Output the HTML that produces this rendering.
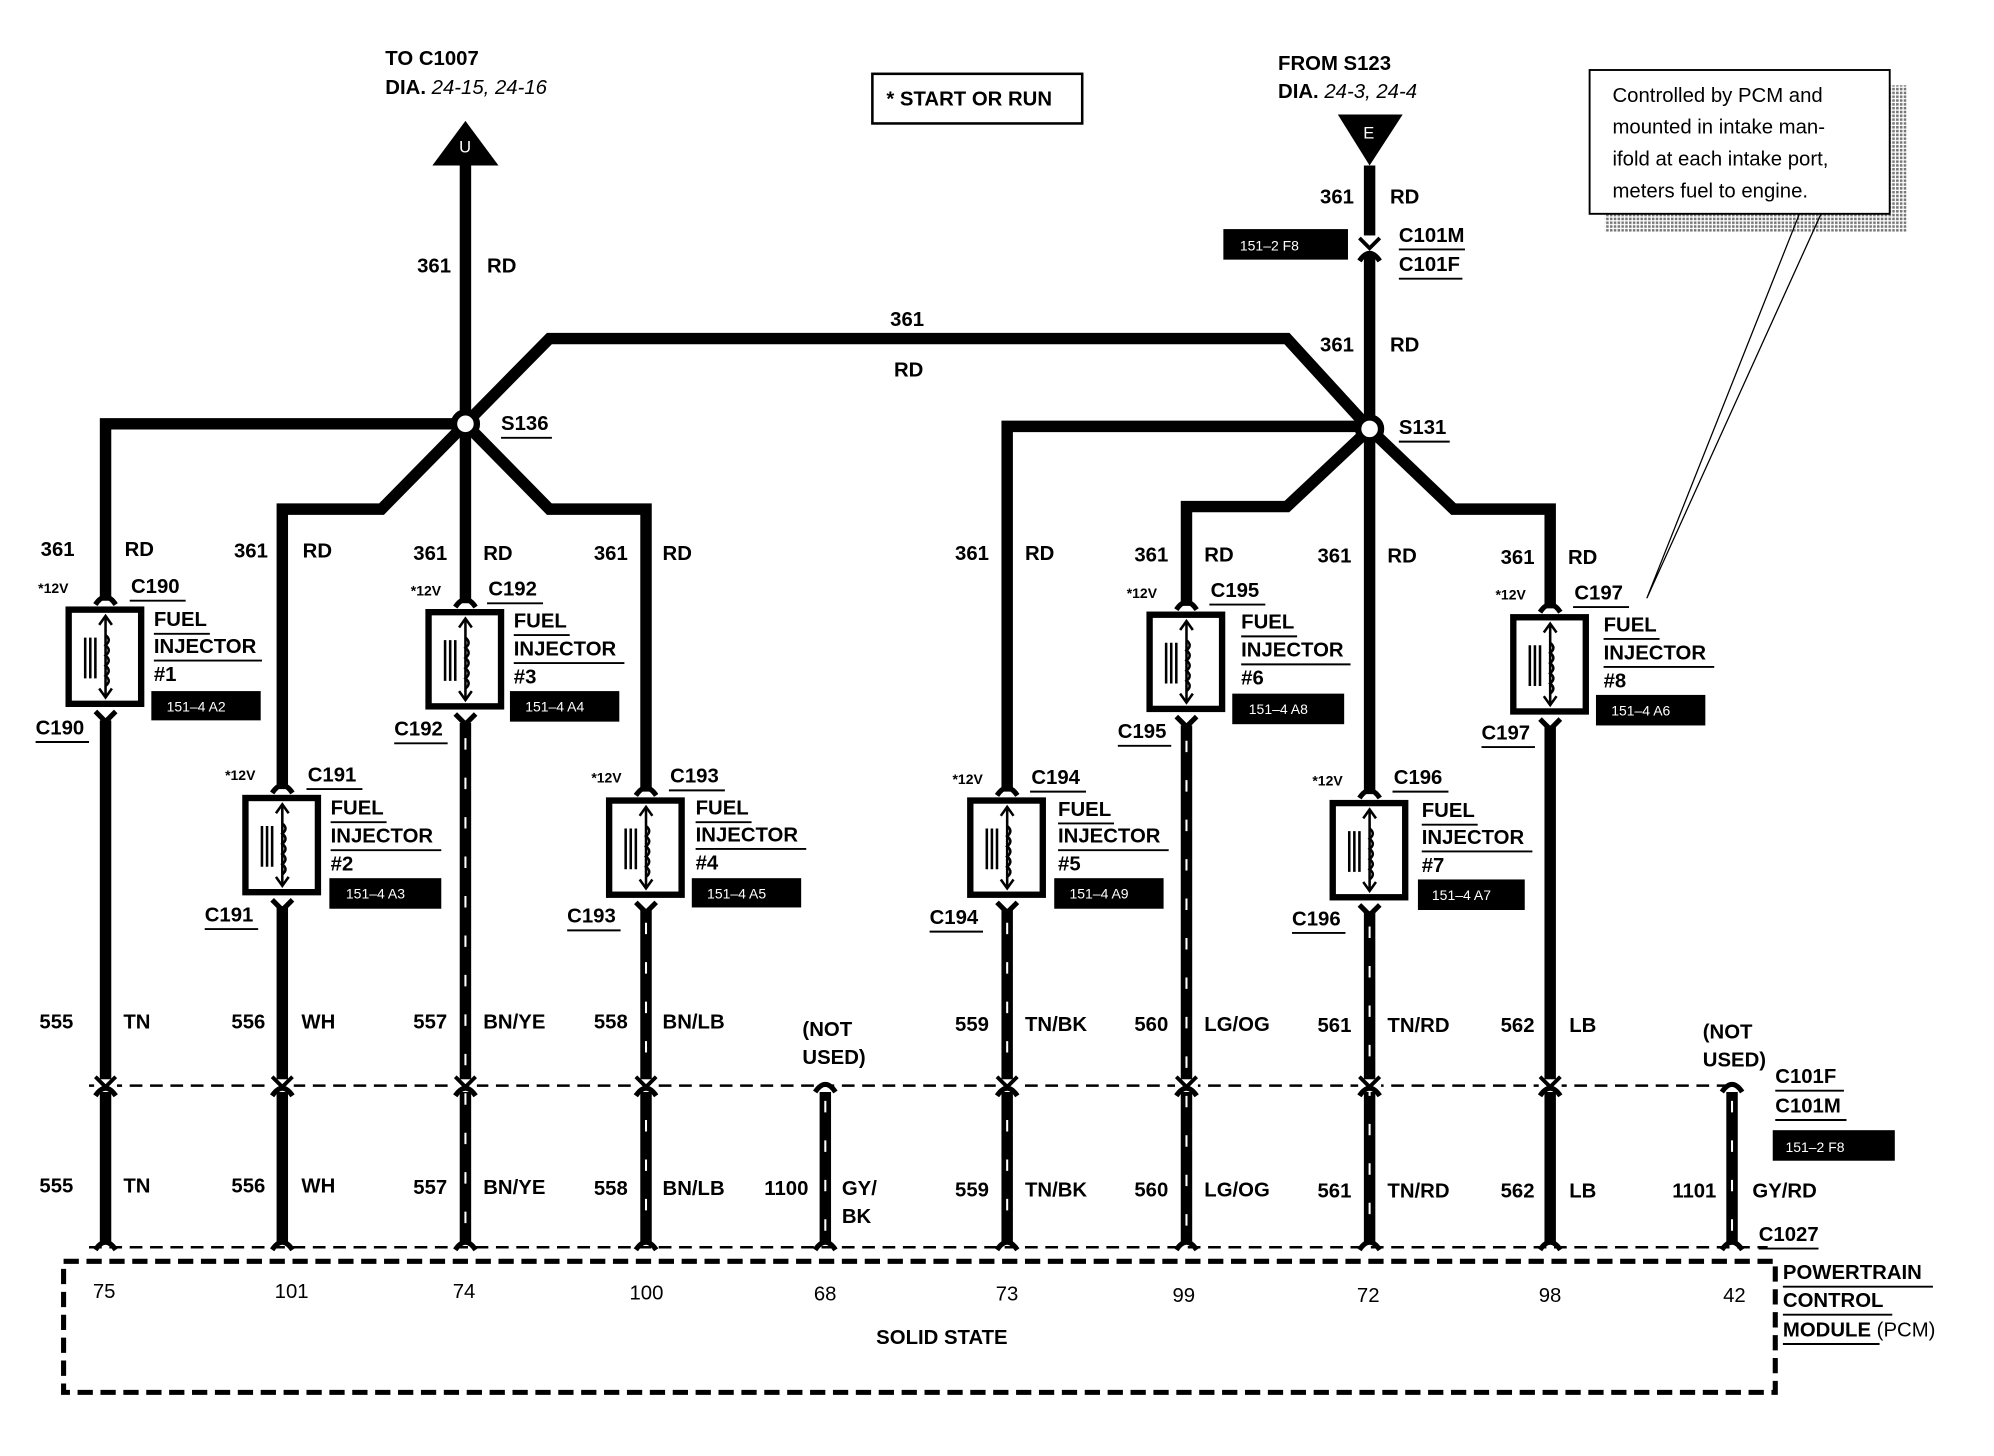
<!DOCTYPE html>
<html><head><meta charset="utf-8"><style>
html,body{margin:0;padding:0;background:#fff}
svg{display:block}
text{font-family:"Liberation Sans",sans-serif;font-weight:bold;font-size:16px;fill:#000}
.s{font-size:11px}
.w{fill:#fff;font-weight:normal;font-size:11px}
.n{font-weight:normal;font-size:16px}
</style></head><body>
<svg width="1994" height="1456" viewBox="0 0 1568 1144" preserveAspectRatio="none" xmlns="http://www.w3.org/2000/svg">
<defs>
<g id="inj">
<rect x="-29" y="0" width="57" height="74" fill="#fff" stroke="#000" stroke-width="5"/>
<line x1="0" y1="6" x2="0" y2="68" stroke="#000" stroke-width="2"/>
<path d="M-5,12 L0,5 L5,12 M-5,62 L0,69 L5,62" fill="none" stroke="#000" stroke-width="2"/>
<path d="M0,20 q5,4 0,8 q5,4 0,8 q5,4 0,8 q5,4 0,8 q5,4 0,8" fill="none" stroke="#000" stroke-width="2"/>
<path d="M-16,22 v32 M-12,22 v32 M-8,22 v32" stroke="#000" stroke-width="2"/>
<path d="M-8,-4 Q0,-16 8,-4" fill="none" stroke="#000" stroke-width="4"/>
<path d="M-8,80 L0,88 L8,80" fill="none" stroke="#000" stroke-width="4"/>
</g>
<g id="up"><path d="M-8,6 Q0,-6 8,6" fill="none" stroke="#000" stroke-width="4"/></g>
<g id="dn"><path d="M-8,-6 L0,2 L8,-6" fill="none" stroke="#000" stroke-width="3"/></g>
<pattern id="dots" width="3" height="3" patternUnits="userSpaceOnUse"><rect width="2" height="2" fill="#777"/></pattern>
</defs>

<text x="303" y="51">TO C1007</text>
<text x="303" y="74">DIA. <tspan font-style="italic" font-weight="normal">24-15, 24-16</tspan></text>
<polygon points="366,95 340,130 392,130" fill="#000"/>
<text x="361" y="120" class="w" style="font-size:13px">U</text>
<rect x="686" y="58" width="165" height="39" fill="none" stroke="#000" stroke-width="2"/>
<text x="697" y="83">*  START OR RUN</text>
<text x="1005" y="55">FROM S123</text>
<text x="1005" y="77">DIA. <tspan font-style="italic" font-weight="normal">24-3, 24-4</tspan></text>
<polygon points="1052,90 1103,90 1077,130" fill="#000"/>
<text x="1072" y="109" class="w" style="font-size:13px">E</text>

<rect x="1262" y="67" width="238" height="115" fill="url(#dots)"/>
<rect x="1250" y="55" width="236" height="113" fill="#fff" stroke="#000" stroke-width="1.5"/>
<text class="n" x="1268" y="80">Controlled by PCM and</text>
<text class="n" x="1268" y="105">mounted in intake man-</text>
<text class="n" x="1268" y="130">ifold at each intake port,</text>
<text class="n" x="1268" y="155">meters fuel to engine.</text>
<path d="M1415,168 L1295,470 L1432,168" fill="none" stroke="#000" stroke-width="1"/>

<g stroke="#000" stroke-width="9" fill="none" stroke-linejoin="miter">
<line x1="366" y1="128" x2="366" y2="333"/>
<line x1="1077" y1="130" x2="1077" y2="337"/>
<path d="M366,333 L432,266 L1012,266 L1077,337"/>
<path d="M366,333 L83,333 L83,472"/>
<path d="M366,333 L300,400 L222,400 L222,620"/>
<line x1="366" y1="333" x2="366" y2="474"/>
<path d="M366,333 L432,400 L508,400 L508,622"/>
<path d="M1077,335 L792,335 L792,622"/>
<path d="M1077,337 L1012,398 L933,398 L933,476"/>
<line x1="1077" y1="337" x2="1077" y2="624"/>
<path d="M1077,337 L1143,400 L1219,400 L1219,478"/>
</g>
<circle cx="366" cy="333" r="9" fill="#fff" stroke="#000" stroke-width="5"/>
<circle cx="1077" cy="337" r="9" fill="#fff" stroke="#000" stroke-width="5"/>
<text x="394" y="338">S136</text><line x1="394" y1="344" x2="434" y2="344" stroke="#000" stroke-width="1.5"/>
<text x="1100" y="341">S131</text><line x1="1100" y1="347" x2="1140" y2="347" stroke="#000" stroke-width="1.5"/>
<rect x="1069" y="185" width="16" height="16" fill="#fff"/>
<use href="#dn" x="1077" y="193"/><use href="#up" x="1077" y="199"/>

<text x="328" y="214">361</text><text x="383" y="214">RD</text>
<text x="700" y="256">361</text><text x="703" y="296">RD</text>
<text x="1038" y="160">361</text><text x="1093" y="160">RD</text>
<text x="1038" y="276">361</text><text x="1093" y="276">RD</text>
<rect x="962" y="180" width="98" height="24" fill="#000"/><text x="975" y="197" class="w">151–2 F8</text>
<text x="1100" y="190">C101M</text><line x1="1100" y1="196" x2="1152" y2="196" stroke="#000" stroke-width="1.5"/>
<text x="1100" y="213">C101F</text><line x1="1100" y1="219" x2="1150" y2="219" stroke="#000" stroke-width="1.5"/>

<g stroke="#000" stroke-width="9">
<line x1="83" y1="566" x2="83" y2="976"/>
<line x1="222" y1="712" x2="222" y2="976"/>
<line x1="366" y1="568" x2="366" y2="976"/>
<line x1="508" y1="714" x2="508" y2="976"/>
<line x1="649" y1="858" x2="649" y2="976"/>
<line x1="792" y1="714" x2="792" y2="976"/>
<line x1="933" y1="570" x2="933" y2="976"/>
<line x1="1077" y1="716" x2="1077" y2="976"/>
<line x1="1219" y1="570" x2="1219" y2="976"/>
<line x1="1362" y1="858" x2="1362" y2="976"/>
</g>
<g stroke="#fff" stroke-width="1.6" stroke-dasharray="9 22">
<line x1="366" y1="580" x2="366" y2="970"/>
<line x1="508" y1="725" x2="508" y2="970"/>
<line x1="649" y1="865" x2="649" y2="970"/>
<line x1="792" y1="725" x2="792" y2="970"/>
<line x1="933" y1="582" x2="933" y2="970"/>
<line x1="1077" y1="728" x2="1077" y2="970"/>
<line x1="1362" y1="865" x2="1362" y2="970"/>
</g>
<line x1="70" y1="853" x2="1360" y2="853" stroke="#000" stroke-width="2" stroke-dasharray="10 6"/>
<g fill="#fff"><rect x="74" y="848" width="18" height="10"/><rect x="213" y="848" width="18" height="10"/><rect x="357" y="848" width="18" height="10"/><rect x="499" y="848" width="18" height="10"/><rect x="783" y="848" width="18" height="10"/><rect x="924" y="848" width="18" height="10"/><rect x="1068" y="848" width="18" height="10"/><rect x="1210" y="848" width="18" height="10"/></g>
<g><use href="#dn" x="83" y="852"/><use href="#up" x="83" y="855"/>
<use href="#dn" x="222" y="852"/><use href="#up" x="222" y="855"/>
<use href="#dn" x="366" y="852"/><use href="#up" x="366" y="855"/>
<use href="#dn" x="508" y="852"/><use href="#up" x="508" y="855"/>
<use href="#up" x="649" y="852"/>
<use href="#dn" x="792" y="852"/><use href="#up" x="792" y="855"/>
<use href="#dn" x="933" y="852"/><use href="#up" x="933" y="855"/>
<use href="#dn" x="1077" y="852"/><use href="#up" x="1077" y="855"/>
<use href="#dn" x="1219" y="852"/><use href="#up" x="1219" y="855"/>
<use href="#up" x="1362" y="852"/></g>
<line x1="70" y1="980" x2="1390" y2="980" stroke="#000" stroke-width="2" stroke-dasharray="10 6"/>
<g><use href="#up" x="83" y="976"/><use href="#up" x="222" y="976"/><use href="#up" x="366" y="976"/><use href="#up" x="508" y="976"/><use href="#up" x="649" y="976"/><use href="#up" x="792" y="976"/><use href="#up" x="933" y="976"/><use href="#up" x="1077" y="976"/><use href="#up" x="1219" y="976"/><use href="#up" x="1362" y="976"/></g>

<use href="#inj" x="83" y="479"/>
<use href="#inj" x="222" y="627"/>
<use href="#inj" x="366" y="481"/>
<use href="#inj" x="508" y="629"/>
<use href="#inj" x="792" y="629"/>
<use href="#inj" x="933" y="483"/>
<use href="#inj" x="1077" y="631"/>
<use href="#inj" x="1219" y="485"/>

<g>
<text x="32" y="437">361</text><text x="98" y="437">RD</text>
<text x="30" y="466" class="s">*12V</text><text x="103" y="466">C190</text><line x1="102" y1="472" x2="146" y2="472" stroke="#000" stroke-width="1.5"/>
<text x="121" y="492">FUEL</text><line x1="121" y1="498" x2="165" y2="498" stroke="#000" stroke-width="1.5"/>
<text x="121" y="513">INJECTOR</text><line x1="121" y1="519" x2="206" y2="519" stroke="#000" stroke-width="1.5"/>
<text x="121" y="535">#1</text>
<rect x="119" y="543" width="86" height="23" fill="#000"/><text x="131" y="559" class="w">151–4 A2</text>
<text x="28" y="577">C190</text><line x1="28" y1="583" x2="70" y2="583" stroke="#000" stroke-width="1.5"/>
<text x="184" y="438">361</text><text x="238" y="438">RD</text>
<text x="177" y="613" class="s">*12V</text><text x="242" y="614">C191</text><line x1="241" y1="620" x2="285" y2="620" stroke="#000" stroke-width="1.5"/>
<text x="260" y="640">FUEL</text><line x1="260" y1="646" x2="304" y2="646" stroke="#000" stroke-width="1.5"/>
<text x="260" y="662">INJECTOR</text><line x1="260" y1="668" x2="347" y2="668" stroke="#000" stroke-width="1.5"/>
<text x="260" y="684">#2</text>
<rect x="259" y="690" width="88" height="24" fill="#000"/><text x="272" y="706" class="w">151–4 A3</text>
<text x="161" y="724">C191</text><line x1="161" y1="730" x2="203" y2="730" stroke="#000" stroke-width="1.5"/>
<text x="325" y="440">361</text><text x="380" y="440">RD</text>
<text x="323" y="468" class="s">*12V</text><text x="384" y="468">C192</text><line x1="383" y1="474" x2="427" y2="474" stroke="#000" stroke-width="1.5"/>
<text x="404" y="493">FUEL</text><line x1="404" y1="499" x2="448" y2="499" stroke="#000" stroke-width="1.5"/>
<text x="404" y="515">INJECTOR</text><line x1="404" y1="521" x2="491" y2="521" stroke="#000" stroke-width="1.5"/>
<text x="404" y="537">#3</text>
<rect x="401" y="543" width="86" height="24" fill="#000"/><text x="413" y="559" class="w">151–4 A4</text>
<text x="310" y="578">C192</text><line x1="310" y1="584" x2="352" y2="584" stroke="#000" stroke-width="1.5"/>
<text x="467" y="440">361</text><text x="521" y="440">RD</text>
<text x="465" y="615" class="s">*12V</text><text x="527" y="615">C193</text><line x1="526" y1="621" x2="570" y2="621" stroke="#000" stroke-width="1.5"/>
<text x="547" y="640">FUEL</text><line x1="547" y1="646" x2="591" y2="646" stroke="#000" stroke-width="1.5"/>
<text x="547" y="661">INJECTOR</text><line x1="547" y1="667" x2="634" y2="667" stroke="#000" stroke-width="1.5"/>
<text x="547" y="683">#4</text>
<rect x="544" y="690" width="86" height="23" fill="#000"/><text x="556" y="706" class="w">151–4 A5</text>
<text x="446" y="725">C193</text><line x1="446" y1="731" x2="488" y2="731" stroke="#000" stroke-width="1.5"/>
<text x="751" y="440">361</text><text x="806" y="440">RD</text>
<text x="749" y="616" class="s">*12V</text><text x="811" y="616">C194</text><line x1="810" y1="622" x2="854" y2="622" stroke="#000" stroke-width="1.5"/>
<text x="832" y="641">FUEL</text><line x1="832" y1="647" x2="876" y2="647" stroke="#000" stroke-width="1.5"/>
<text x="832" y="662">INJECTOR</text><line x1="832" y1="668" x2="919" y2="668" stroke="#000" stroke-width="1.5"/>
<text x="832" y="684">#5</text>
<rect x="829" y="690" width="86" height="24" fill="#000"/><text x="841" y="706" class="w">151–4 A9</text>
<text x="731" y="726">C194</text><line x1="731" y1="732" x2="773" y2="732" stroke="#000" stroke-width="1.5"/>
<text x="892" y="441">361</text><text x="947" y="441">RD</text>
<text x="886" y="470" class="s">*12V</text><text x="952" y="469">C195</text><line x1="951" y1="475" x2="995" y2="475" stroke="#000" stroke-width="1.5"/>
<text x="976" y="494">FUEL</text><line x1="976" y1="500" x2="1020" y2="500" stroke="#000" stroke-width="1.5"/>
<text x="976" y="516">INJECTOR</text><line x1="976" y1="522" x2="1062" y2="522" stroke="#000" stroke-width="1.5"/>
<text x="976" y="538">#6</text>
<rect x="969" y="545" width="88" height="24" fill="#000"/><text x="982" y="561" class="w">151–4 A8</text>
<text x="879" y="580">C195</text><line x1="879" y1="586" x2="921" y2="586" stroke="#000" stroke-width="1.5"/>
<text x="1036" y="442">361</text><text x="1091" y="442">RD</text>
<text x="1032" y="617" class="s">*12V</text><text x="1096" y="616">C196</text><line x1="1095" y1="622" x2="1139" y2="622" stroke="#000" stroke-width="1.5"/>
<text x="1118" y="642">FUEL</text><line x1="1118" y1="648" x2="1162" y2="648" stroke="#000" stroke-width="1.5"/>
<text x="1118" y="663">INJECTOR</text><line x1="1118" y1="669" x2="1205" y2="669" stroke="#000" stroke-width="1.5"/>
<text x="1118" y="685">#7</text>
<rect x="1115" y="691" width="84" height="24" fill="#000"/><text x="1126" y="707" class="w">151–4 A7</text>
<text x="1016" y="727">C196</text><line x1="1016" y1="733" x2="1058" y2="733" stroke="#000" stroke-width="1.5"/>
<text x="1180" y="443">361</text><text x="1233" y="443">RD</text>
<text x="1176" y="471" class="s">*12V</text><text x="1238" y="471">C197</text><line x1="1237" y1="477" x2="1281" y2="477" stroke="#000" stroke-width="1.5"/>
<text x="1261" y="496">FUEL</text><line x1="1261" y1="502" x2="1305" y2="502" stroke="#000" stroke-width="1.5"/>
<text x="1261" y="518">INJECTOR</text><line x1="1261" y1="524" x2="1348" y2="524" stroke="#000" stroke-width="1.5"/>
<text x="1261" y="540">#8</text>
<rect x="1255" y="546" width="86" height="24" fill="#000"/><text x="1267" y="562" class="w">151–4 A6</text>
<text x="1165" y="581">C197</text><line x1="1165" y1="587" x2="1207" y2="587" stroke="#000" stroke-width="1.5"/>
</g>

<text x="31" y="808">555</text><text x="97" y="808">TN</text>
<text x="182" y="808">556</text><text x="237" y="808">WH</text>
<text x="325" y="808">557</text><text x="380" y="808">BN/YE</text>
<text x="467" y="808">558</text><text x="521" y="808">BN/LB</text>
<text x="631" y="814">(NOT</text><text x="631" y="836">USED)</text>
<text x="751" y="810">559</text><text x="806" y="810">TN/BK</text>
<text x="892" y="810">560</text><text x="947" y="810">LG/OG</text>
<text x="1036" y="811">561</text><text x="1091" y="811">TN/RD</text>
<text x="1180" y="811">562</text><text x="1234" y="811">LB</text>
<text x="1339" y="816">(NOT</text><text x="1339" y="838">USED)</text>
<text x="1396" y="851">C101F</text><line x1="1396" y1="857" x2="1450" y2="857" stroke="#000" stroke-width="1.5"/>
<text x="1396" y="874">C101M</text><line x1="1396" y1="880" x2="1452" y2="880" stroke="#000" stroke-width="1.5"/>
<rect x="1394" y="888" width="96" height="24" fill="#000"/><text x="1404" y="905" class="w">151–2 F8</text>
<text x="31" y="937">555</text><text x="97" y="937">TN</text>
<text x="182" y="937">556</text><text x="237" y="937">WH</text>
<text x="325" y="938">557</text><text x="380" y="938">BN/YE</text>
<text x="467" y="939">558</text><text x="521" y="939">BN/LB</text>
<text x="601" y="939">1100</text><text x="662" y="939">GY/</text><text x="662" y="961">BK</text>
<text x="751" y="940">559</text><text x="806" y="940">TN/BK</text>
<text x="892" y="940">560</text><text x="947" y="940">LG/OG</text>
<text x="1036" y="941">561</text><text x="1091" y="941">TN/RD</text>
<text x="1180" y="941">562</text><text x="1234" y="941">LB</text>
<text x="1315" y="941">1101</text><text x="1378" y="941">GY/RD</text>
<text x="1383" y="975">C1027</text><line x1="1383" y1="981" x2="1430" y2="981" stroke="#000" stroke-width="1.5"/>

<rect x="50" y="991" width="1346" height="103" fill="none" stroke="#000" stroke-width="4" stroke-dasharray="12 6"/>
<text class="n" x="73" y="1020">75</text><text class="n" x="216" y="1020">101</text><text class="n" x="356" y="1020">74</text><text class="n" x="495" y="1021">100</text><text class="n" x="640" y="1022">68</text><text class="n" x="783" y="1022">73</text><text class="n" x="922" y="1023">99</text><text class="n" x="1067" y="1023">72</text><text class="n" x="1210" y="1023">98</text><text class="n" x="1355" y="1023">42</text>
<text x="689" y="1056">SOLID STATE</text>
<text x="1402" y="1005">POWERTRAIN</text><line x1="1402" y1="1011" x2="1520" y2="1011" stroke="#000" stroke-width="1.5"/>
<text x="1402" y="1027">CONTROL</text><line x1="1402" y1="1033" x2="1488" y2="1033" stroke="#000" stroke-width="1.5"/>
<text x="1402" y="1050">MODULE <tspan font-weight="normal">(PCM)</tspan></text><line x1="1402" y1="1056" x2="1478" y2="1056" stroke="#000" stroke-width="1.5"/>
</svg>
</body></html>
